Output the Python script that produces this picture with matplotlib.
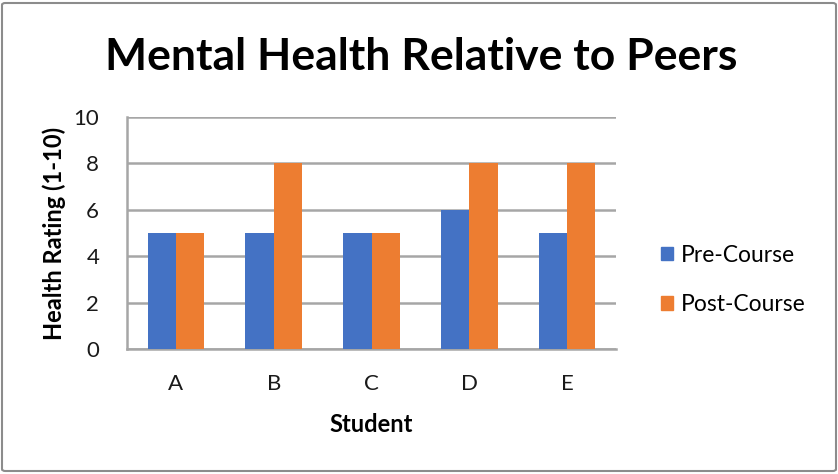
import numpy as np
import matplotlib
matplotlib.use('Agg')
import matplotlib.pyplot as plt
from matplotlib.patches import Patch, FancyBboxPatch

# data
students = ['A', 'B', 'C', 'D', 'E']
pre_course = [5, 5, 5, 6, 5]
post_course = [5, 8, 5, 8, 8]

blue = '#4472C4'
orange = '#ED7D31'

plt.rcParams['font.family'] = ['Lato', 'DejaVu Sans']

W, H = 838, 474
fig = plt.figure(figsize=(W/100., H/100.), dpi=100)

# outer chart border
fig.patches.append(FancyBboxPatch((2/W, 3/H), 834/W, 468/H, boxstyle='round,pad=0,rounding_size=0.004',
                                  transform=fig.transFigure, fill=False, edgecolor='#8c8c8c', linewidth=1.5))

ax = fig.add_axes([127/W, 1-349/H, (616-127)/W, (349-117)/H])

x = np.arange(len(students))
w = 0.29
ax.bar(x - w/2, pre_course, w, color=blue, label='Pre-Course', zorder=3)
ax.bar(x + w/2, post_course, w, color=orange, label='Post-Course', zorder=3)

ax.set_xlim(-0.5, len(students)-0.5)
ax.set_ylim(0, 10)
ax.set_yticks(np.arange(0, 11, 2))
ax.set_xticks(x)
ax.set_xticklabels(students)
ax.tick_params(axis='both', length=0, labelsize=16, colors='#1a1a1a')
ax.tick_params(axis='x', pad=18)
ax.tick_params(axis='y', pad=20)
ax.grid(axis='y', color='#a6a6a6', linewidth=1.8, zorder=0)
for s in ['top', 'right']:
    ax.spines[s].set_visible(False)
ax.spines['left'].set_color('#a6a6a6')
ax.spines['left'].set_linewidth(1.8)
ax.spines['bottom'].set_color('#a6a6a6')
ax.spines['bottom'].set_linewidth(1.8)

ax.set_xlabel('Student', fontsize=17, fontweight='bold', labelpad=14)
ax.set_ylabel('Health Rating (1-10)', fontsize=17, fontweight='bold', va='center')
ax.yaxis.set_label_coords((54-127)/489., 0.5)

fig.text(421/W, 1-57/H, 'Mental Health Relative to Peers', fontsize=32, fontweight='bold',
         ha='center', va='center')

handles = [Patch(color=blue, label='Pre-Course'), Patch(color=orange, label='Post-Course')]
fig.legend(handles=handles, loc='center left', bbox_to_anchor=(640/W, 1-280/H), frameon=False,
           fontsize=16.5, handlelength=0.55, handleheight=0.55, handletextpad=0.35, labelspacing=1.25)

fig.savefig('out.png', dpi=100)
